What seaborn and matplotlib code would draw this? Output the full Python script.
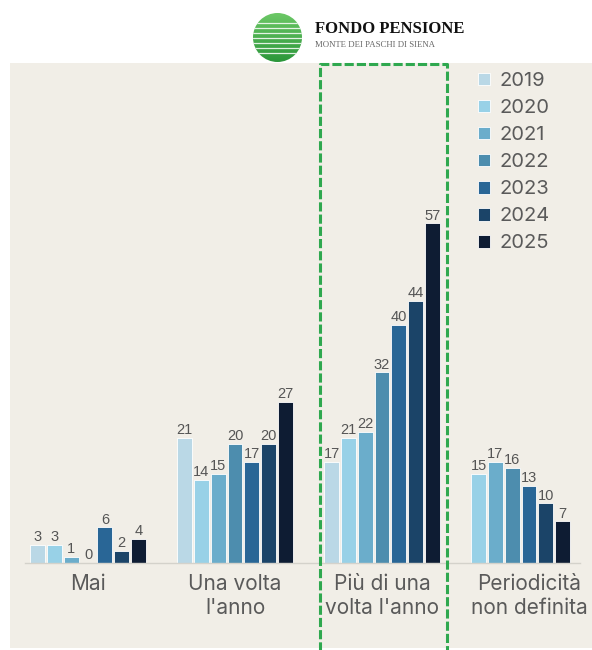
import numpy as np
import pandas as pd
import matplotlib.pyplot as plt
import matplotlib.patches as mpatches
import seaborn as sns

# frequency categories and yearly shares (%)
categories = ["Mai", "Una volta\nl'anno", "Più di una\nvolta l'anno", "Periodicità\nnon definita"]
years = ["2019", "2020", "2021", "2022", "2023", "2024", "2025"]
v2019 = [3, 21, 17, np.nan]
v2020 = [3, 14, 21, 15]
v2021 = [1, 15, 22, 17]
v2022 = [0, 20, 32, 16]
v2023 = [6, 17, 40, 13]
v2024 = [2, 20, 44, 10]
v2025 = [4, 27, 57, 7]

colors = ["#bad8e6", "#98d1e7", "#6badcb", "#4d8dae", "#296696", "#1b4468", "#0e1c33"]

rows = []
for year, vals in zip(years, [v2019, v2020, v2021, v2022, v2023, v2024, v2025]):
    for cat, v in zip(categories, vals):
        rows.append({"cat": cat, "year": year, "val": v})
df = pd.DataFrame(rows).dropna()

sns.set_style("white")
plt.rcParams['font.family'] = ['Inter', 'DejaVu Sans']

W, H = 592, 650
fig = plt.figure(figsize=(W / 100, H / 100), dpi=100, facecolor="white")
ax = fig.add_axes([10 / W, 2 / H, 582 / W, 585 / H])
ax.set_facecolor("#f1eee7")

sns.barplot(data=df, x="cat", y="val", hue="year", order=categories, hue_order=years,
            palette=colors, saturation=1, width=0.8, gap=0.12, edgecolor="white",
            linewidth=0.6, ax=ax, legend=True)

# the last group has no 2019 bar: its bars start in the first slot
slot = 0.8 / len(years)
for p in ax.patches:
    if abs(p.get_x() + p.get_width() / 2 - 3) < 0.45:
        p.set_x(p.get_x() - slot)

for cont in ax.containers:
    ax.bar_label(cont, fmt="%.0f", padding=0.5, color="#555555", fontsize=10.5,
                 family=['Liberation Sans Narrow', 'Liberation Sans', 'DejaVu Sans'])

ax.set_xlim(-0.531, 3.429)
ax.set_ylim(-14.26, 83.9)
ax.set_xlabel("")
ax.set_ylabel("")
ax.set_yticks([])
for s in ["top", "right", "left"]:
    ax.spines[s].set_visible(False)
ax.spines["bottom"].set_position(("data", 0))
ax.spines["bottom"].set_bounds(-0.43, 3.35)
ax.spines["bottom"].set_color("#d4d2cb")
ax.spines["bottom"].set_linewidth(1)
ax.tick_params(axis="x", length=0, pad=8, labelsize=15, labelcolor="#5a5a5a")
for t in ax.get_xticklabels():
    t.set_linespacing(1.25)

handles, labels = ax.get_legend_handles_labels()
ax.legend(handles, labels, loc="upper left", bbox_to_anchor=(478 / W, 1 - 72 / H),
          bbox_transform=fig.transFigure, frameon=False, fontsize=14.5,
          labelcolor="#5a5a5a", handlelength=0.6, handleheight=0.6,
          handletextpad=0.45, labelspacing=0.45, borderpad=0, borderaxespad=0)

# overlay for the highlight box and logo
ov = fig.add_axes([0, 0, 1, 1])
ov.set_xlim(0, W)
ov.set_ylim(H, 0)
ov.set_axis_off()
ov.plot([320, 320, 447, 447], [655, 64, 64, 655], ls="--", dashes=(3, 1), color="#2fa84f", lw=2.2)
ov.text(315, 29, "FONDO PENSIONE", family="Liberation Serif", fontweight="bold",
        fontsize=12, color="#111111", va="center", ha="left")
ov.text(315, 45, "MONTE DEI PASCHI DI SIENA", family="Liberation Serif",
        fontsize=6.3, color="#666666", va="center", ha="left")

lg = fig.add_axes([253 / W, 1 - 62 / H, 49 / W, 49 / H])
lg.set_xlim(-1, 1)
lg.set_ylim(-1, 1)
lg.set_axis_off()
circ = mpatches.Circle((0, 0), 1, transform=lg.transData, facecolor="none", edgecolor="none")
lg.add_patch(circ)
grad = np.linspace(0, 1, 100).reshape(-1, 1)
img = lg.imshow(grad, extent=(-1, 1, -1, 1), origin="upper", aspect="auto",
                cmap=sns.blend_palette(["#6cc866", "#2b963a"], as_cmap=True))
img.set_clip_path(circ)
for yy in [0.59, 0.39, 0.18, -0.02, -0.22, -0.43, -0.63]:
    ln, = lg.plot([-1, 1], [yy, yy], color="white", lw=0.9, alpha=0.85)
    ln.set_clip_path(circ)

fig.savefig("out.png", dpi=100, facecolor="white")
